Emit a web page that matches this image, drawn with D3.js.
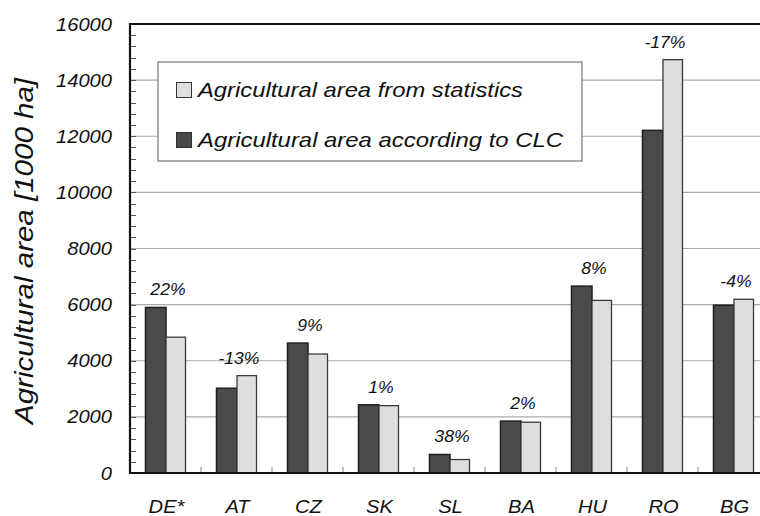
<!DOCTYPE html>
<html><head><meta charset="utf-8">
<script src="https://cdn.jsdelivr.net/npm/d3@7"></script>
<style>body{margin:0;background:#fff}svg{display:block}text{font-family:"Liberation Sans",Arial,sans-serif;font-style:italic;fill:#111}</style>
</head><body>
<svg id="c" width="760" height="516"></svg>
<script>
const categories = ["DE*","AT","CZ","SK","SL","BA","HU","RO","BG"];
const clcValues  = [5900, 3020, 4630, 2430, 660, 1850, 6660, 12210, 5980];
const statValues = [4840, 3470, 4240, 2400, 480, 1810, 6150, 14730, 6190];
const diffLabels = ["22%","-13%","9%","1%","38%","2%","8%","-17%","-4%"];
const yTicks = [0,2000,4000,6000,8000,10000,12000,14000,16000];
const seriesNames = ["Agricultural area from statistics","Agricultural area according to CLC"];
const yTitle = "Agricultural area [1000 ha]";

const svg = d3.select("#c");
const L = 130, R = 769, T = 24, B = 473;
const x = d3.scaleBand().domain(categories).range([L, R]).padding(0);
const y = d3.scaleLinear().domain([0,16000]).range([B, T]);
const bw = 20.5;

function stretch(sel, k){ sel.each(function(){ const w=this.getComputedTextLength(); this.setAttribute("textLength", w*k); this.setAttribute("lengthAdjust","spacingAndGlyphs"); }); }

// gridlines
svg.append("g").selectAll("line").data(yTicks.filter(v=>v>0&&v<16000)).join("line")
  .attr("x1",L).attr("x2",R).attr("y1",d=>y(d)).attr("y2",d=>y(d))
  .attr("stroke","#aaa").attr("stroke-width",1.2);

// minor y ticks
svg.append("g").selectAll("line").data(d3.range(400,16000,400)).join("line")
  .attr("x1",L).attr("x2",L+6).attr("y1",d=>Math.round(y(d))+0.5).attr("y2",d=>Math.round(y(d))+0.5)
  .attr("stroke","#555").attr("stroke-width",1);

// x ticks between categories
svg.append("g").selectAll("line").data(categories.slice(1)).join("line")
  .attr("x1",d=>x(d)).attr("x2",d=>x(d)).attr("y1",B).attr("y2",B-6)
  .attr("stroke","#999").attr("stroke-width",1.2);

// legend box
const lg = svg.append("g");
lg.append("rect").attr("x",158).attr("y",62).attr("width",424).attr("height",99)
  .attr("fill","#fff").attr("stroke","#777").attr("stroke-width",1.2);

// bars
const g = svg.append("g");
categories.forEach((c,i)=>{
  const cx = x(c) + x.bandwidth()/2 + 0.5;
  g.append("rect").attr("x",cx-bw).attr("y",y(clcValues[i])).attr("width",bw).attr("height",B-y(clcValues[i]))
    .attr("fill","#4a4a4a").attr("stroke","#1e1e1e").attr("stroke-width",1.5);
  g.append("rect").attr("x",cx).attr("y",y(statValues[i])).attr("width",bw-1).attr("height",B-y(statValues[i]))
    .attr("fill","#dedede").attr("stroke","#3a3a3a").attr("stroke-width",1.3);
  const top = Math.min(y(clcValues[i]), y(statValues[i]));
  svg.append("text").attr("class","pct").attr("x",cx+2).attr("y",top-12).attr("text-anchor","middle")
    .attr("font-size",16).attr("fill","#222").text(diffLabels[i]);
});
stretch(svg.selectAll("text.pct"),1.1);

// legend entries
const lgFill = ["#dedede","#4a4a4a"];
const lgWidths = [325,365];
seriesNames.forEach((s,i)=>{
  lg.append("rect").attr("x",176.5).attr("y",82.5+i*50).attr("width",15).attr("height",15)
    .attr("fill",lgFill[i]).attr("stroke","#333").attr("stroke-width",1);
  lg.append("text").attr("x",198).attr("y",97+i*50).attr("font-size",21).text(s)
    .attr("textLength",lgWidths[i]).attr("lengthAdjust","spacingAndGlyphs");
});

// frame
svg.append("line").attr("x1",L).attr("x2",R).attr("y1",T).attr("y2",T).attr("stroke","#111").attr("stroke-width",2.2);
svg.append("line").attr("x1",L).attr("x2",R).attr("y1",B).attr("y2",B).attr("stroke","#111").attr("stroke-width",2.2);
svg.append("line").attr("x1",L).attr("x2",L).attr("y1",T-1).attr("y2",B+1).attr("stroke","#111").attr("stroke-width",2.2);

// y axis labels
const ya = svg.append("g").attr("transform",`translate(${L},0)`)
  .call(d3.axisLeft(y).tickValues(yTicks).tickFormat(d3.format("d")).tickSize(0).tickPadding(18));
ya.select(".domain").remove();
ya.attr("font-family",null).attr("font-size",null);
ya.selectAll("text").attr("font-size",19).attr("fill","#111");
stretch(ya.selectAll("text"),1.06);

// x axis labels
const xa = svg.append("g").attr("transform",`translate(0,${B})`)
  .call(d3.axisBottom(x).tickSize(0));
xa.select(".domain").remove();
xa.attr("font-family",null).attr("font-size",null);
xa.selectAll("text").attr("font-size",19).attr("y",40).attr("dy",0).attr("dx",1).attr("fill","#111");
stretch(xa.selectAll("text"),1.06);

// y title
svg.append("text").attr("transform","translate(33,251) rotate(-90)").attr("text-anchor","middle")
  .attr("font-size",25).attr("fill","#222").text(yTitle).attr("textLength",346).attr("lengthAdjust","spacingAndGlyphs");
</script>
</body></html>
